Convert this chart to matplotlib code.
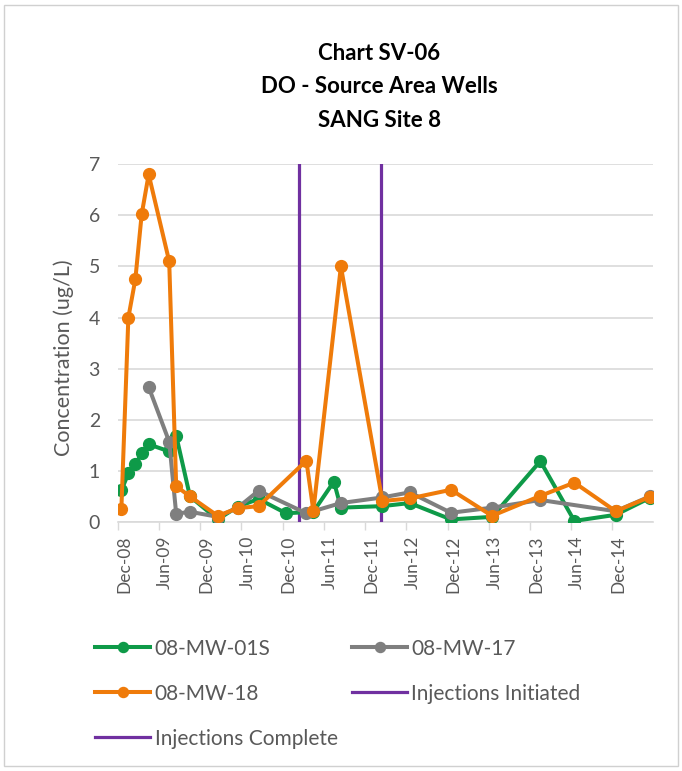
import matplotlib.pyplot as plt
import matplotlib.transforms as mtransforms
from matplotlib.patches import Rectangle
import pandas as pd

# --------------------------------
# Data
# --------------------------------

mw01s_dates = [
    "2008-12", "2009-01", "2009-02", "2009-03", "2009-04", "2009-07",
    "2009-08", "2009-10", "2010-02", "2010-05", "2010-08", "2010-12",
    "2011-04", "2011-07", "2011-08", "2012-02", "2012-06", "2012-12",
    "2013-06", "2014-01", "2014-06", "2014-12", "2015-05",
]
mw01s_vals = [
    0.62, 0.95, 1.13, 1.34, 1.52, 1.38,
    1.69, 0.5, 0.05, 0.3, 0.45, 0.17,
    0.2, 0.79, 0.28, 0.31, 0.37, 0.05,
    0.1, 1.19, 0.02, 0.14, 0.47,
]

mw17_dates = [
    "2009-04", "2009-07", "2009-08", "2009-10", "2010-02", "2010-05",
    "2010-08", "2011-03", "2011-08", "2012-02", "2012-06", "2012-12",
    "2013-06", "2014-01", "2014-12", "2015-05",
]
mw17_vals = [
    2.64, 1.57, 0.16, 0.2, 0.1, 0.28,
    0.61, 0.17, 0.37, 0.48, 0.58, 0.18,
    0.28, 0.43, 0.21, 0.5,
]

mw18_dates = [
    "2008-12", "2009-01", "2009-02", "2009-03", "2009-04", "2009-07",
    "2009-08", "2009-10", "2010-02", "2010-05", "2010-08", "2011-03",
    "2011-04", "2011-08", "2012-02", "2012-06", "2012-12", "2013-06",
    "2014-01", "2014-06", "2014-12", "2015-05",
]
mw18_vals = [
    0.26, 4.0, 4.75, 6.02, 6.8, 5.1,
    0.7, 0.5, 0.12, 0.27, 0.31, 1.2,
    0.22, 5.0, 0.41, 0.46, 0.63, 0.12,
    0.51, 0.77, 0.21, 0.49,
]

injection_start = "2011-02-10"
injection_end = "2012-02-08"

tick_labels = [
    "Dec-08", "Jun-09", "Dec-09", "Jun-10", "Dec-10", "Jun-11", "Dec-11",
    "Jun-12", "Dec-12", "Jun-13", "Dec-13", "Jun-14", "Dec-14",
]

# --------------------------------
# Styles
# --------------------------------

GREEN = "#0E9A48"
GRAY = "#7F7F7F"
ORANGE = "#EF7B0A"
PURPLE = "#7030A0"
TEXT = "#595959"
GRID = "#D9D9D9"

plt.rcParams["font.family"] = ["Lato", "DejaVu Sans"]


def mid_month(dates):
    # Excel puts monthly points in the middle of each month slot
    return pd.to_datetime(dates) + pd.Timedelta(days=15)


fig = plt.figure(figsize=(6.82, 7.71), dpi=100)
ax = fig.add_axes([0.173, 0.323, 0.785, 0.464])

# chart border
fig.patches.append(
    Rectangle(
        (0.006, 0.006), 0.988, 0.988,
        transform=fig.transFigure,
        fill=False, edgecolor="#D0D0D0", linewidth=1.0
    )
)

line_kw = dict(linewidth=2.9, marker="o", markersize=8.5)

h_start = ax.axvline(pd.to_datetime(injection_start), color=PURPLE,
                     linewidth=2.3, zorder=2)
h_end = ax.axvline(pd.to_datetime(injection_end), color=PURPLE,
                   linewidth=2.3, zorder=2)

h01, = ax.plot(mid_month(mw01s_dates), mw01s_vals, color=GREEN,
               zorder=3, **line_kw)
h17, = ax.plot(mid_month(mw17_dates), mw17_vals, color=GRAY,
               zorder=4, **line_kw)
h18, = ax.plot(mid_month(mw18_dates), mw18_vals, color=ORANGE,
               zorder=5, **line_kw)

# --------------------------------
# Axes
# --------------------------------

ax.set_ylim(0, 7)
ax.set_yticks(range(0, 8))
ax.set_xlim(pd.Timestamp("2008-12-01"), pd.Timestamp("2015-06-01"))

tick_pos = pd.date_range("2008-12-01", periods=len(tick_labels), freq="6MS")
ax.set_xticks(tick_pos)
ax.set_xticklabels(tick_labels, rotation=90)

ax.tick_params(axis="x", colors=GRID, labelcolor=TEXT, labelsize=12.5,
               length=6, width=1, direction="out", pad=4)
ax.tick_params(axis="y", length=0, labelcolor=TEXT, labelsize=14, pad=13)

# labels sit slightly right of the tick in Excel
offset = mtransforms.ScaledTranslation(6 / 100, 0, fig.dpi_scale_trans)
for lbl in ax.get_xticklabels():
    lbl.set_transform(lbl.get_transform() + offset)

ax.grid(axis="y", color=GRID, linewidth=1.2)
ax.set_axisbelow(True)

for side in ["top", "right", "left"]:
    ax.spines[side].set_visible(False)
ax.spines["bottom"].set_color(GRID)
ax.spines["bottom"].set_linewidth(1.2)
ax.spines["bottom"].set_zorder(1)

ax.set_ylabel("Concentration (ug/L)", fontsize=15.5, color=TEXT)
ax.yaxis.set_label_coords(-0.082, 0.46)

# --------------------------------
# Title
# --------------------------------

fig.text(0.556, 0.944, "Chart SV-06\nDO - Source Area Wells\nSANG Site 8",
         ha="center", va="top", fontsize=16, fontweight="bold",
         color="black", linespacing=1.72)

# --------------------------------
# Legend
# --------------------------------

fig.legend(
    [h01, h18, h_end, h17, h_start],
    ["08-MW-01S", "08-MW-18", "Injections Complete",
     "08-MW-17", "Injections Initiated"],
    ncol=2,
    loc="upper left",
    bbox_to_anchor=(0.112, 0.196),
    frameon=False,
    fontsize=15,
    labelcolor=TEXT,
    handlelength=2.65,
    handletextpad=0.2,
    columnspacing=0.7,
    labelspacing=1.2,
    markerscale=0.85,
)

plt.savefig("out.png", dpi=100)
